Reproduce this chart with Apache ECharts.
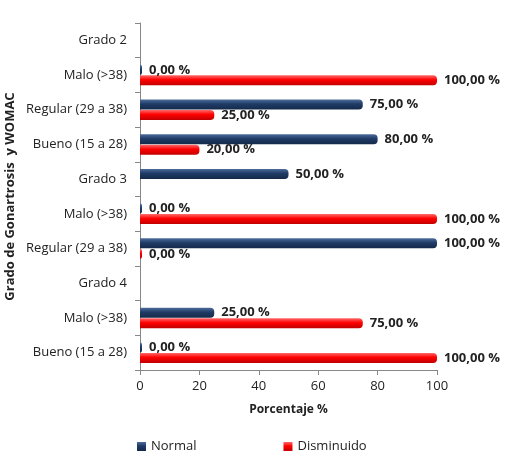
<!DOCTYPE html>
<html>
<head>
<meta charset="utf-8">
<script src="https://cdn.jsdelivr.net/npm/echarts@6/dist/echarts.min.js"></script>
<style>
  html, body { margin: 0; padding: 0; background: #fff; }
  #chart { width: 507px; height: 458px; }
</style>
</head>
<body>
<div id="chart"></div>
<script>
// categories listed bottom to top
var categorias = ['Bueno (15 a 28)', 'Malo (>38)', 'Grado 4', 'Regular (29 a 38)', 'Malo (>38)',
                  'Grado 3', 'Bueno (15 a 28)', 'Regular (29 a 38)', 'Malo (>38)', 'Grado 2'];
var normal =     [0, 25, null, 100, 0, 50, 80, 75, 0, null];
var disminuido = [100, 75, null, 0, 100, null, 20, 25, 100, null];
var ticksX = [0, 20, 40, 60, 80, 100];

var fuente = 'Open Sans';

function grad(c1, c2, c3) {
    return new echarts.graphic.LinearGradient(0, 0, 0, 1, [
        {offset: 0, color: c1}, {offset: 0.45, color: c2}, {offset: 1, color: c3}
    ]);
}

function etiqueta(p) {
    if (p.value == null) return '';
    return p.value.toFixed(2).replace('.', ',') + ' %';
}

var chart = echarts.init(document.getElementById('chart'));

var option = {
    animation: false,
    textStyle: {fontFamily: fuente},
    grid: {left: 140, right: 70, top: 23, bottom: 88, outerBoundsMode: 'none', containLabel: false},
    legend: {
        data: ['Normal', 'Disminuido'],
        bottom: 0, left: 132,
        itemGap: 87,
        itemWidth: 9, itemHeight: 9,
        icon: 'rect',
        textStyle: {fontFamily: fuente, fontSize: 13, color: '#222'}
    },
    xAxis: {
        type: 'value',
        min: ticksX[0], max: ticksX[ticksX.length - 1], interval: 20,
        name: 'Porcentaje %',
        nameLocation: 'middle',
        nameGap: 34,
        nameTextStyle: {fontFamily: fuente, fontWeight: 'bold', fontSize: 12, color: '#222'},
        axisLine: {show: true, lineStyle: {color: '#888'}},
        axisTick: {show: true, length: 5, lineStyle: {color: '#888'}},
        axisLabel: {fontFamily: fuente, fontSize: 13, color: '#222', margin: 10},
        splitLine: {show: false}
    },
    yAxis: {
        type: 'category',
        data: categorias,
        name: 'Grado de Gonartrosis  y WOMAC',
        nameLocation: 'middle',
        nameGap: 123,
        nameMoveOverlap: false,
        nameTextStyle: {fontFamily: fuente, fontWeight: 'bold', fontSize: 13, color: '#222'},
        axisLine: {show: true, lineStyle: {color: '#888'}},
        axisTick: {show: true, length: 5, lineStyle: {color: '#888'}},
        axisLabel: {fontFamily: fuente, fontSize: 13, color: '#222', margin: 13}
    },
    series: [
        {
            name: 'Normal',
            type: 'bar',
            data: normal,
            barWidth: 10,
            barGap: '5%',
            barMinHeight: 2,
            itemStyle: {
                color: grad('#4f6e9c', '#1f3b66', '#152a4a'),
                borderRadius: [0, 4, 4, 0]
            },
            label: {
                show: true, position: 'right', distance: 7,
                formatter: etiqueta,
                fontFamily: fuente, fontWeight: 'bold', fontSize: 13, color: '#222'
            }
        },
        {
            name: 'Disminuido',
            type: 'bar',
            data: disminuido,
            barWidth: 10,
            barMinHeight: 2,
            itemStyle: {
                color: grad('#ff6a6a', '#ff0000', '#c00000'),
                borderRadius: [0, 4, 4, 0]
            },
            label: {
                show: true, position: 'right', distance: 7,
                formatter: etiqueta,
                fontFamily: fuente, fontWeight: 'bold', fontSize: 13, color: '#222'
            }
        }
    ]
};

chart.setOption(option);
</script>
</body>
</html>
